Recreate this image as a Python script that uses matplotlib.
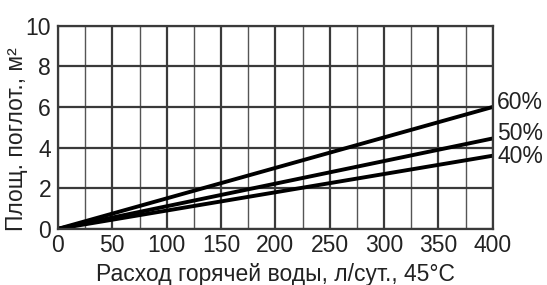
import matplotlib
matplotlib.use("Agg")
import matplotlib.pyplot as plt
import numpy as np

plt.rcParams['font.family'] = ['Liberation Sans', 'DejaVu Sans']

# расход горячей воды, л/сут.
flow = [0, 400]
# площадь поглотителя, м² для разных долей покрытия
area_60 = [0, 6.0]
area_50 = [0, 4.45]
area_40 = [0, 3.6]
labels = ['60%', '50%', '40%']

fig = plt.figure(figsize=(5.47, 2.85), dpi=100)
ax = fig.add_axes([0.106, 0.197, 0.795, 0.713])

ax.set_xlim(0, 400)
ax.set_ylim(0, 10)
ax.set_xticks(np.arange(0, 401, 50))
ax.set_xticks(np.arange(25, 400, 50), minor=True)
ax.set_yticks(np.arange(0, 11, 2))
ax.grid(which='major', color='#3a3a3a', lw=1.6)
ax.grid(which='minor', axis='x', color='#555555', lw=1.0)
ax.tick_params(which='both', length=0, labelsize=16.5, colors='#222222')
ax.tick_params(axis='x', pad=4)
ax.tick_params(axis='y', pad=5)
for s in ax.spines.values():
    s.set_color('#3a3a3a')
    s.set_linewidth(1.6)
ax.set_axisbelow(True)

for ys, lab, dy in zip([area_60, area_50, area_40], labels, [0.2, 0.23, -0.05]):
    ax.plot(flow, ys, color='black', lw=2.8, solid_capstyle='butt')
    ax.text(404, ys[-1] + dy, lab, fontsize=16.5, color='#222222', va='center', ha='left', clip_on=False)

ax.set_xlabel('Расход горячей воды, л/сут., 45°C', fontsize=16.5, color='#222222', labelpad=4)
ax.set_ylabel('Площ. поглот., м²', fontsize=16.5, color='#222222')
ax.yaxis.set_label_coords(-0.068, 0.44)

fig.savefig('out.png', dpi=100)
